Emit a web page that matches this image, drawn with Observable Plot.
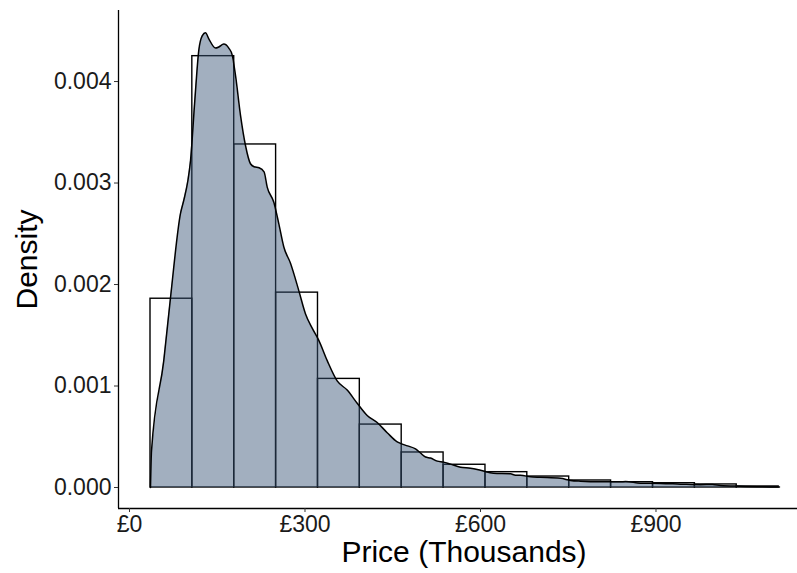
<!DOCTYPE html>
<html>
<head>
<meta charset="utf-8">
<script src="https://cdn.jsdelivr.net/npm/d3@7"></script>
<script src="https://cdn.jsdelivr.net/npm/@observablehq/plot@0.6"></script>
<style>
  html, body { margin: 0; padding: 0; background: #fff; overflow: hidden; }
  #chart svg { overflow: hidden; }
</style>
</head>
<body>
<div id="chart"></div>
<script>
// Histogram bin edges (price, thousands) and bar heights (density)
const binEdges = [35.9, 107.4, 179.0, 250.6, 322.2, 393.7, 465.3, 536.9, 608.5, 680.0, 751.6, 823.2, 894.9, 966.5, 1038.0, 1109.7];
const binDensity = [0.00186, 0.00425, 0.00338, 0.00192, 0.00107, 0.00062, 0.000345, 0.000224, 0.000151, 0.000108, 0.000069, 0.000052, 0.000042, 0.00003, 0.00001];

// Kernel density curve
const densX = [35.9, 37.6, 58.6, 70.1, 87.2, 92.8, 99.7, 104.3, 111.6, 118.5, 124.3, 129.9, 135.6, 147.0, 152.6, 161.2, 169.7, 175.6, 181.2, 189.7, 198.3, 206.8, 213.0, 221.5, 230.0, 235.4, 246.7, 255.2, 263.8, 275.2, 289.4, 300.9, 312.3, 323.6, 338.0, 355.0, 372.1, 389.2, 406.3, 423.4, 440.5, 457.6, 465.0, 475.2, 488.9, 497.4, 506.0, 514.5, 526.0, 536.8, 548.7, 565.8, 582.9, 600.0, 622.2, 651.3, 659.8, 668.4, 685.5, 702.6, 736.8, 753.8, 770.9, 805.1, 839.3, 847.9, 873.5, 907.7, 941.9, 976.1, 996.6, 1010.3, 1044.4, 1111.1];
const densY = [0, 0.00036, 0.00125, 0.00187, 0.00270, 0.00283, 0.00302, 0.00322, 0.00381, 0.00431, 0.00445, 0.00448, 0.00442, 0.00433, 0.00434, 0.00437, 0.00433, 0.00426, 0.00406, 0.00367, 0.00337, 0.00319, 0.00316, 0.00315, 0.00311, 0.00296, 0.00281, 0.00260, 0.00237, 0.00221, 0.00194, 0.00171, 0.00157, 0.00145, 0.00125, 0.00105, 0.00096, 0.00083, 0.00071, 0.00064, 0.00054, 0.00045, 0.00043, 0.00041, 0.00038, 0.00034, 0.00030, 0.00029, 0.00026, 0.00025, 0.00023, 0.00020, 0.00019, 0.00017, 0.00014, 0.000135, 0.00012, 0.00012, 0.000105, 0.0001, 0.00009, 0.00007, 0.000062, 0.000056, 0.000056, 0.000059, 0.000042, 0.00004, 0.000033, 0.000027, 0.00003, 0.00002, 0.000013, 0.000005];

const xTicks = [0, 300, 600, 900];
const yTicks = [0, 0.001, 0.002, 0.003, 0.004];
const xTitle = "Price (Thousands)";
const yTitle = "Density";

const bins = binDensity.map((d, i) => ({x1: binEdges[i], x2: binEdges[i + 1], y: d}));
const dens = densX.map((x, i) => ({x, y: densY[i]}));

const xDomain = [-18.8, 1162.4];
const yDomain = [-0.000207, 0.0047];

const fontFamily = "'Liberation Sans', Arial, sans-serif";

const chart = Plot.plot({
  width: 797,
  height: 573,
  marginTop: 10,
  marginBottom: 65,
  marginLeft: 118,
  marginRight: 0,
  style: {fontFamily, background: "#fff", color: "#000"},
  x: {domain: xDomain, range: [118, 809]},
  y: {domain: yDomain},
  marks: [
    Plot.rectY(bins, {x1: "x1", x2: "x2", y: "y", fill: "none", stroke: "#000", strokeWidth: 1.4}),
    Plot.areaY(dens, {x: "x", y: "y", fill: "#3a5578", fillOpacity: 0.47, curve: "linear"}),
    Plot.lineY(dens, {x: "x", y: "y", stroke: "#000", strokeWidth: 1.5, curve: "monotone-x"}),
    Plot.ruleY([yDomain[0]], {stroke: "#000", strokeWidth: 1.3}),
    Plot.ruleX([xDomain[0]], {stroke: "#000", strokeWidth: 1.3}),
    Plot.axisX(xTicks, {tickSize: 4, tickPadding: 3, tickFormat: d => "£" + d, fontSize: 23, label: null, stroke: "#333", fill: "#1a1a1a"}),
    Plot.axisY(yTicks, {tickSize: 4, tickPadding: 3, tickFormat: d3.format(".3f"), fontSize: 23, label: null, stroke: "#333", fill: "#1a1a1a"}),
    Plot.text([xTitle], {frameAnchor: "bottom", dx: 6, dy: 53, fontSize: 30, fill: "#000", text: d => d}),
    Plot.text([yTitle], {frameAnchor: "left", textAnchor: "middle", dx: -91, rotate: -90, fontSize: 30, fill: "#000", text: d => d})
  ]
});
document.getElementById("chart").appendChild(chart);
</script>
</body>
</html>
